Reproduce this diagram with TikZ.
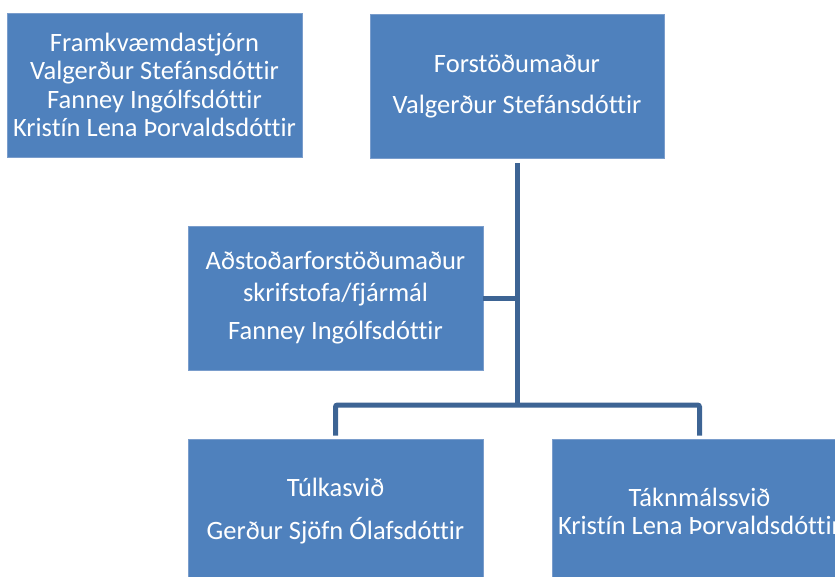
\documentclass[tikz,border=0pt]{standalone}
\usepackage{fontspec}
\setmainfont{Carlito}[Ligatures={NoCommon}]
\definecolor{boxfill}{HTML}{4F81BD}
\definecolor{boxedge}{HTML}{7A9DCC}
\definecolor{conn}{HTML}{3D6494}
\begin{document}
\begin{tikzpicture}[x=1pt,y=-1pt,
  orgbox/.style={rectangle, fill=boxfill, draw=boxedge, line width=0.7pt, text=white,
    align=center, minimum width=295pt, minimum height=144pt, inner sep=0pt,
    font=\fontsize{26.5}{28.5}\selectfont},
  connline/.style={draw=conn, line width=5pt, rounded corners=2pt}]
\useasboundingbox (0,0) rectangle (835,576);
\node[orgbox] (fk) at (154.5,85) {Framkvæmdastjórn\\Valgerður Stefánsdóttir\\Fanney Ingólfsdóttir\\Kristín Lena Þorvaldsdóttir};
\node[orgbox, minimum width=294pt] (fm) at (517,86) {Forstöðumaður\\[12.5pt]Valgerður Stefánsdóttir};
\node[orgbox] (ad) at (335.5,298) {Aðstoðarforstöðumaður\\[3.5pt]skrifstofa/fjármál\\[9.5pt]Fanney Ingólfsdóttir};
\node[orgbox] (tu) at (335.5,511) {Túlkasvið\\[14.5pt]Gerður Sjöfn Ólafsdóttir};
\node[orgbox] (ta) at (699.5,511) {Táknmálssvið\\[-0.5pt]Kristín Lena Þorvaldsdóttir};
\coordinate (j) at (517,405);
\draw[connline, shorten <=5pt] (fm.south) -- (j);
\draw[connline] (ad.east) -- (ad.east -| j);
\draw[connline, shorten <=3pt, shorten >=3pt] (tu.north) |- (j) -| (ta.north);
\end{tikzpicture}
\end{document}
